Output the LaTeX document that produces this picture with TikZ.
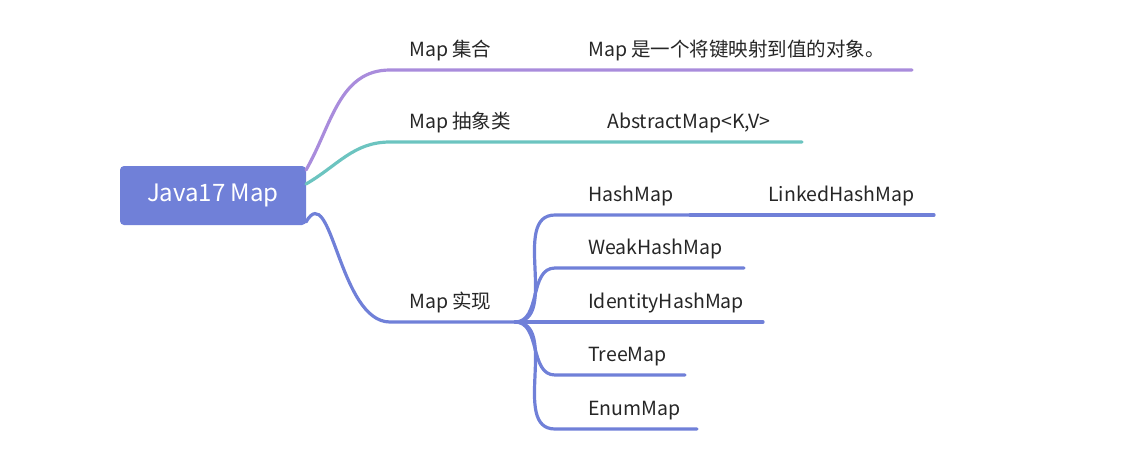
\documentclass[tikz,border=0pt]{standalone}
\usepackage{fontspec}
\setmainfont{Noto Sans CJK SC}
\usetikzlibrary{positioning}
\definecolor{rootblue}{HTML}{7080D8}
\definecolor{lilac}{HTML}{A98CDC}
\definecolor{teal}{HTML}{6CC4C0}
\tikzset{
  branch/.style={line width=3.2pt,line cap=round},
  lbl/.style={anchor=south west,inner sep=0pt,font=\fontsize{19.5}{22}\selectfont,text=black!85},
}
\begin{document}
\begin{tikzpicture}[x=1pt,y=-1pt]
    \useasboundingbox (0,0) rectangle (1130,459);
    \node[fill=rootblue,rounded corners=4pt,minimum width=186pt,minimum height=59pt,
      text=white,font=\fontsize{24}{26}\selectfont] (root) at (213,195.5) {Java17 Map};
    % Map 集合
    \coordinate (r1) at (306,170);
    \coordinate (a1) at (390,70);
    \coordinate (e1) at (912,70);
    \draw[branch,lilac] (r1) to[out=60,in=180] (a1) -- (e1);
    \node[lbl] (set) at (409,61) {Map 集合};
    \node[lbl] (setdesc) at (588,61) {Map 是一个将键映射到值的对象。};
    % Map 抽象类
    \coordinate (r2) at (306,184);
    \coordinate (a2) at (390,142);
    \coordinate (e2) at (802,142);
    \draw[branch,teal] (r2) to[out=30,in=180] (a2) -- (e2);
    \node[lbl] (abs) at (409,133) {Map 抽象类};
    \node[lbl] (absmap) at (607,133) {AbstractMap<K,V>};
    % Map 实现
    \coordinate (r3) at (306,222);
    \coordinate (a3) at (390,322);
    \coordinate (hub) at (515,322);
    \draw[branch,rootblue] (r3) to[out=60,in=180] (a3) -- (hub);
    \node[lbl] (impl) at (409,313) {Map 实现};
    \foreach \name/\y/\len in {HashMap/215/690,WeakHashMap/268/744,IdentityHashMap/322/763,TreeMap/375/685,EnumMap/429/697}{
      \coordinate (c\name) at (555,\y);
      \coordinate (e\name) at (\len,\y);
      \draw[branch,rootblue] (hub) to[out=0,in=180] (c\name) -- (e\name);
      \node[lbl] (n\name) at (588,\y-9) {\name};
    }
    \coordinate (eLinked) at (934,215);
    \draw[branch,rootblue] (eHashMap) -- (eLinked);
    \node[lbl] (linked) at (768,206) {LinkedHashMap};
\end{tikzpicture}
\end{document}
